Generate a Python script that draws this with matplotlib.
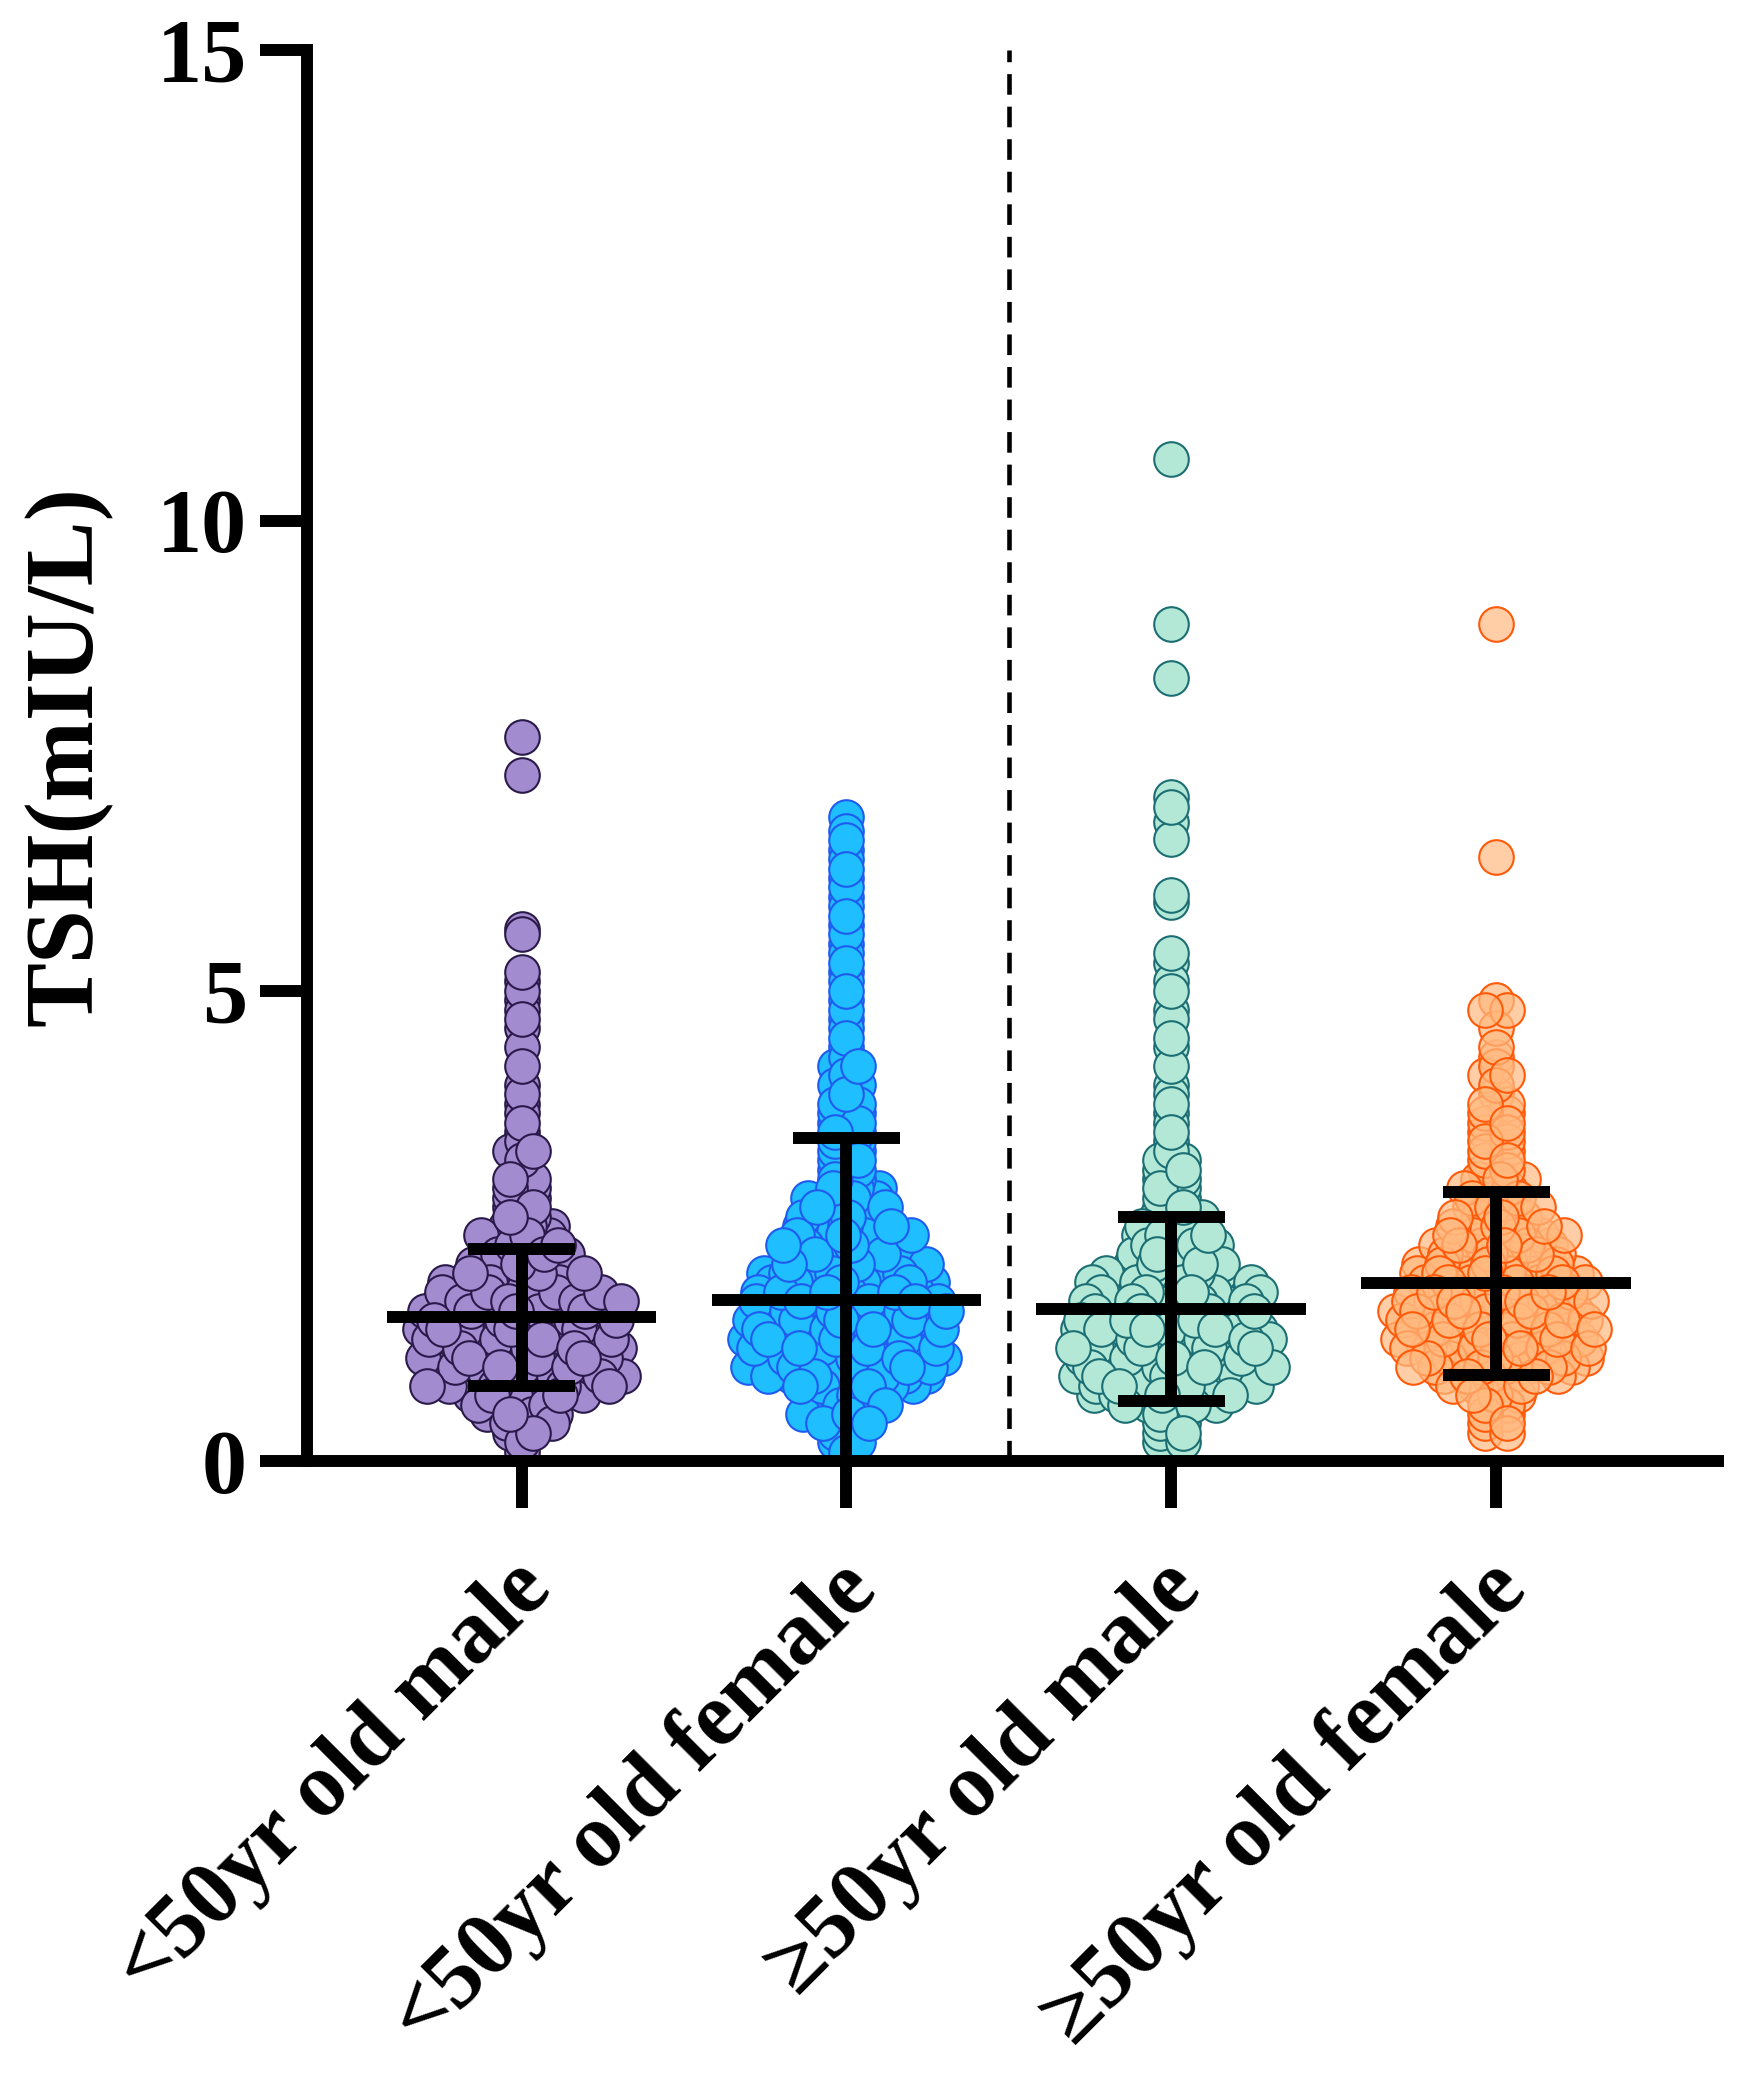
import glob
import numpy as np
import matplotlib
matplotlib.use("Agg")
import matplotlib.pyplot as plt
from matplotlib import font_manager
from matplotlib.transforms import ScaledTranslation

# make sure the Times-like serif is registered
for f in glob.glob('/usr/share/fonts/**/LiberationSerif*.ttf', recursive=True):
    font_manager.fontManager.addfont(f)

plt.rcParams['font.family'] = ['Liberation Serif', 'DejaVu Serif']
plt.rcParams['font.weight'] = 'bold'

# groups
groups = ['<50yr old male', '<50yr old female', '\u226550yr old male', '\u226550yr old female']

# TSH values (binned to 0.1) and how many dots sit at each value
lt50_male_tsh = [0.1, 0.2, 0.3, 0.4, 0.5, 0.6, 0.7, 0.8, 0.9, 1.0, 1.1, 1.2, 1.3, 1.4, 1.5, 1.6,
                 1.7, 1.8, 1.9, 2.0, 2.1, 2.2, 2.3, 2.4, 2.5, 2.6, 2.7, 2.8, 2.9, 3.0, 3.1, 3.2,
                 3.3, 3.4, 3.5, 3.6, 3.7, 3.8, 3.9, 4.0, 4.2, 4.4, 4.6, 4.7, 4.8, 4.9, 5.0, 5.1,
                 5.2, 5.6, 5.66, 7.3, 7.7]
lt50_male_n = [1, 1, 2, 3, 4, 4, 6, 9, 9, 9, 9, 9, 9, 9, 9, 9,
               9, 8, 7, 6, 5, 4, 4, 4, 3, 2, 2, 2, 2, 2, 1, 1,
               2, 1, 1, 1, 1, 1, 1, 1, 1, 1, 1, 1, 1, 1, 1, 1,
               1, 1, 1, 1, 1]

lt50_female_tsh = [0.0, 0.1, 0.2, 0.3, 0.4, 0.5, 0.6, 0.7, 0.8, 0.9, 1.0, 1.1, 1.2, 1.3, 1.4, 1.5,
                   1.6, 1.7, 1.8, 1.9, 2.0, 2.1, 2.2, 2.3, 2.4, 2.5, 2.6, 2.7, 2.8, 2.9, 3.0, 3.1,
                   3.2, 3.3, 3.4, 3.5, 3.6, 3.7, 3.8, 3.9, 4.0, 4.1, 4.2, 4.3, 4.4, 4.5, 4.6, 4.7,
                   4.8, 4.9, 5.0, 5.1, 5.2, 5.3, 5.4, 5.5, 5.6, 5.7, 5.8, 5.9, 6.0, 6.1, 6.2, 6.3,
                   6.4, 6.5, 6.6, 6.7, 6.85]
lt50_female_n = [1, 1, 2, 2, 3, 4, 4, 4, 6, 8, 9, 9, 9, 9, 9, 9,
                 9, 9, 8, 8, 8, 7, 6, 6, 6, 5, 4, 4, 4, 3, 2, 2,
                 2, 2, 2, 2, 2, 2, 2, 1, 2, 1, 2, 1, 1, 1, 1, 1,
                 1, 1, 1, 1, 1, 1, 1, 1, 1, 1, 1, 1, 1, 1, 1, 1,
                 1, 1, 1, 1, 1]

ge50_male_tsh = [0.2, 0.3, 0.4, 0.5, 0.6, 0.7, 0.8, 0.9, 1.0, 1.1, 1.2, 1.3, 1.4, 1.5, 1.6, 1.7,
                 1.8, 1.9, 2.0, 2.1, 2.2, 2.3, 2.4, 2.5, 2.6, 2.7, 2.8, 2.9, 3.0, 3.1, 3.2, 3.3,
                 3.4, 3.5, 3.6, 3.7, 3.8, 3.9, 4.0, 4.2, 4.4, 4.5, 4.7, 4.8, 5.0, 5.1, 5.3, 5.4,
                 5.95, 6.02, 6.61, 6.8, 6.95, 7.06, 8.33, 8.9, 10.66]
ge50_male_n = [2, 2, 2, 2, 5, 7, 8, 9, 9, 9, 9, 9, 9, 8, 8, 8,
               8, 8, 6, 5, 4, 4, 4, 3, 3, 2, 2, 2, 2, 2, 2, 1,
               1, 1, 1, 1, 1, 1, 1, 1, 1, 1, 1, 1, 1, 1, 1, 1,
               1, 1, 1, 1, 1, 1, 1, 1, 1]

ge50_female_tsh = [0.3, 0.4, 0.5, 0.6, 0.7, 0.8, 0.9, 1.0, 1.1, 1.2, 1.3, 1.4, 1.5, 1.6, 1.7, 1.8,
                   1.9, 2.0, 2.1, 2.2, 2.3, 2.4, 2.5, 2.6, 2.7, 2.8, 2.9, 3.0, 3.1, 3.2, 3.3, 3.4,
                   3.5, 3.6, 3.7, 3.8, 3.9, 4.0, 4.1, 4.2, 4.3, 4.4, 4.6, 4.8, 4.9, 6.42, 8.9]
ge50_female_n = [2, 2, 2, 2, 3, 4, 6, 8, 8, 9, 9, 9, 9, 9, 9, 8,
                 8, 8, 7, 6, 6, 6, 5, 4, 4, 3, 3, 3, 2, 2, 2, 2,
                 2, 2, 2, 2, 1, 1, 2, 1, 1, 1, 1, 2, 1, 1, 1]

# mean and SD
means = [1.53, 1.71, 1.62, 1.89]
sds = [0.73, 1.73, 0.98, 0.97]

face_colors = ['#A38BCF', '#1EBEFF', '#B4E8D6', (1.0, 0.73, 0.5, 0.7)]
edge_colors = ['#2A1A4A', '#1F5BF0', '#1B6E73', '#FF5A0A']

data = [(lt50_male_tsh, lt50_male_n), (lt50_female_tsh, lt50_female_n),
        (ge50_male_tsh, ge50_male_n), (ge50_female_tsh, ge50_female_n)]


def spread(center, tsh, n, step=0.07):
    # lay the dots of each value side by side (scatter dot plot)
    xs, ys = [], []
    for r, (v, k) in enumerate(zip(tsh, n)):
        shift = 0.0 if k < 3 else ((r * 0.618) % 1 - 0.5) * step
        for j in range(k):
            xs.append(center + (j - (k - 1) / 2) * step + shift)
            ys.append(v)
    xs, ys = np.array(xs), np.array(ys)
    order = np.argsort((np.arange(len(xs)) * 0.618034) % 1)
    return xs[order], ys[order]


fig = plt.figure(figsize=(17.42, 20.78), dpi=100)
ax = fig.add_axes([0.1762, 0.2969, 0.9862 - 0.1762, 0.9757 - 0.2969])

for i, (tsh, n) in enumerate(data):
    xs, ys = spread(i, tsh, n)
    ax.scatter(xs, ys, s=620, facecolors=[face_colors[i]], edgecolors=edge_colors[i],
               linewidths=1.5, zorder=2)

# mean +/- SD
lw = 8.6
for i, (m, sd) in enumerate(zip(means, sds)):
    ax.plot([i - 0.415, i + 0.415], [m, m], color='black', lw=lw, solid_capstyle='butt', zorder=4)
    ax.plot([i, i], [m - sd, m + sd], color='black', lw=lw, solid_capstyle='butt', zorder=4)
    for y in (m - sd, m + sd):
        ax.plot([i - 0.165, i + 0.165], [y, y], color='black', lw=lw, solid_capstyle='butt', zorder=4)

ax.axvline(1.5, color='black', lw=3.3, ls=(0, (4.5, 2.6)), zorder=1)

ax.set_xlim(-0.661, 3.683)
ax.set_ylim(0, 15)
ax.set_yticks([0, 5, 10, 15])
ax.set_xticks(range(4))
ax.set_xticklabels(groups, rotation=45, ha='right', va='top', rotation_mode='anchor')

for side in ['top', 'right']:
    ax.spines[side].set_visible(False)
for side in ['left', 'bottom']:
    ax.spines[side].set_linewidth(8.6)
    ax.spines[side].set_zorder(5)

ax.tick_params(axis='both', width=8.6, length=34, labelsize=65, direction='out')
ax.tick_params(axis='y', pad=9)
ax.tick_params(axis='x', pad=28)
ax.set_ylabel('TSH(mIU/L)', fontsize=70, fontweight='bold', labelpad=32)

# nudge the slanted labels a little to the left
shift = ScaledTranslation(-0.12, 0, fig.dpi_scale_trans)
for lab in ax.get_xticklabels():
    lab.set_transform(lab.get_transform() + shift)

fig.savefig('out.png', dpi=100)
